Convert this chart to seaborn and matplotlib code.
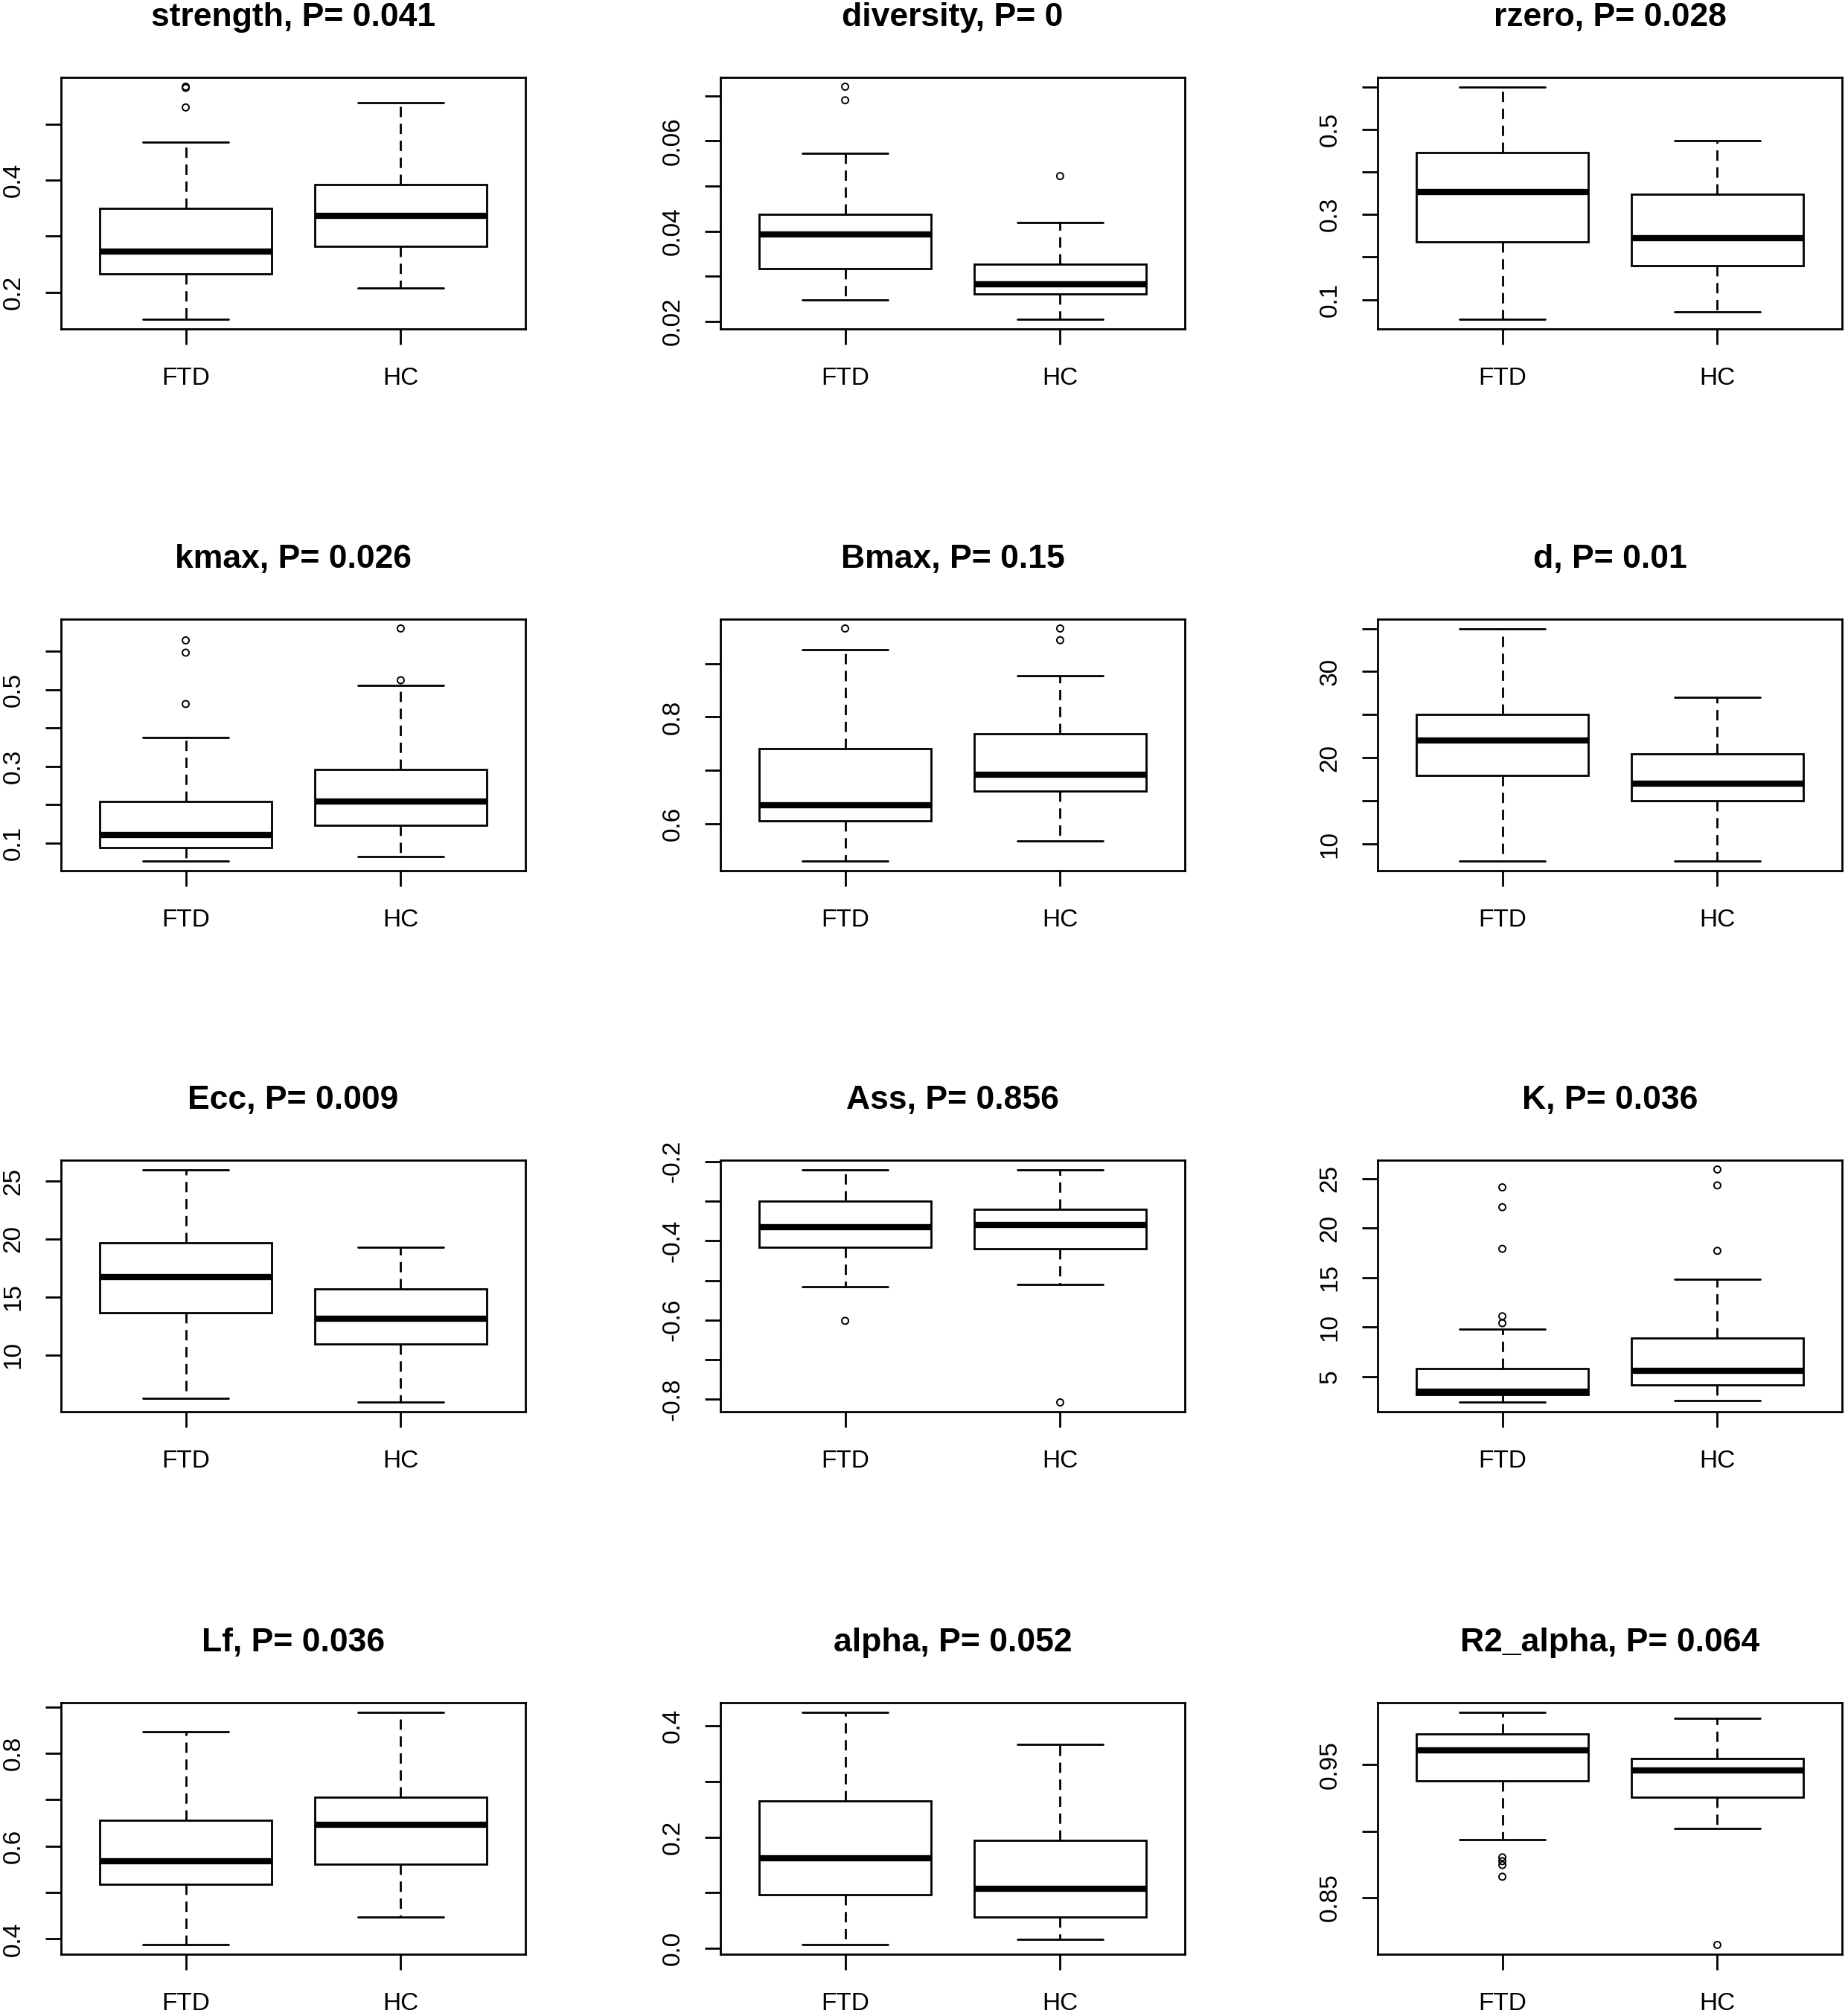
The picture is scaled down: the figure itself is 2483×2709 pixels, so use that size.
import matplotlib
matplotlib.use("Agg")
import matplotlib.pyplot as plt
import pandas as pd
import seaborn as sns

# ---------------- data ----------------
groups = ["FTD", "HC"]

metrics = ["strength", "diversity", "rzero", "kmax", "Bmax", "d",
           "Ecc", "Ass", "K", "Lf", "alpha", "R2_alpha"]
p_values = ["0.041", "0", "0.028", "0.026", "0.15", "0.01",
            "0.009", "0.856", "0.036", "0.036", "0.052", "0.064"]

# five-number summaries: [lower whisker, Q1, median, Q3, upper whisker]
strength_ftd = [0.151, 0.233, 0.272, 0.350, 0.468]
strength_hc = [0.208, 0.282, 0.336, 0.392, 0.539]
strength_ftd_out = [0.530, 0.565, 0.567]
strength_hc_out = []

diversity_ftd = [0.0248, 0.0317, 0.0393, 0.0437, 0.0573]
diversity_hc = [0.0204, 0.0261, 0.0283, 0.0327, 0.0419]
diversity_ftd_out = [0.0690, 0.0720]
diversity_hc_out = [0.0522]

rzero_ftd = [0.053, 0.236, 0.352, 0.446, 0.600]
rzero_hc = [0.071, 0.180, 0.245, 0.348, 0.474]
rzero_ftd_out = []
rzero_hc_out = []

kmax_ftd = [0.0525, 0.089, 0.121, 0.208, 0.376]
kmax_hc = [0.0645, 0.147, 0.209, 0.293, 0.512]
kmax_ftd_out = [0.463, 0.597, 0.629]
kmax_hc_out = [0.525, 0.660]

Bmax_ftd = [0.529, 0.605, 0.634, 0.740, 0.926]
Bmax_hc = [0.567, 0.661, 0.691, 0.769, 0.878]
Bmax_ftd_out = [0.966]
Bmax_hc_out = [0.944, 0.966]

d_ftd = [8, 18, 22, 25, 35]
d_hc = [8, 15, 17, 20.5, 27]
d_ftd_out = []
d_hc_out = []

Ecc_ftd = [6.25, 13.66, 16.70, 19.66, 26.0]
Ecc_hc = [5.91, 10.92, 13.10, 15.69, 19.31]
Ecc_ftd_out = []
Ecc_hc_out = []

Ass_ftd = [-0.5165, -0.416, -0.365, -0.300, -0.220]
Ass_hc = [-0.511, -0.420, -0.360, -0.321, -0.220]
Ass_ftd_out = [-0.602]
Ass_hc_out = [-0.808]

K_ftd = [2.41, 3.17, 3.48, 5.86, 9.79]
K_hc = [2.6, 4.16, 5.6, 8.87, 14.83]
K_ftd_out = [10.4, 11.1, 17.9, 22.1, 24.1]
K_hc_out = [17.7, 24.3, 25.9]

Lf_ftd = [0.387, 0.518, 0.568, 0.656, 0.846]
Lf_hc = [0.447, 0.561, 0.646, 0.706, 0.889]
Lf_ftd_out = []
Lf_hc_out = []

alpha_ftd = [0.0065, 0.0964, 0.1615, 0.2653, 0.4245]
alpha_hc = [0.017, 0.0567, 0.107, 0.194, 0.366]
alpha_ftd_out = []
alpha_hc_out = []

R2_alpha_ftd = [0.8939, 0.938, 0.9609, 0.9731, 0.9898]
R2_alpha_hc = [0.9019, 0.9257, 0.9457, 0.9547, 0.9851]
R2_alpha_ftd_out = [0.8657, 0.8745, 0.8774, 0.8803]
R2_alpha_hc_out = [0.8143]

# y tick marks and their labels (R drops overlapping labels)
strength_ticks = [0.2, 0.3, 0.4, 0.5]
strength_labels = ["0.2", "", "0.4", ""]
diversity_ticks = [0.02, 0.03, 0.04, 0.05, 0.06, 0.07]
diversity_labels = ["0.02", "", "0.04", "", "0.06", ""]
rzero_ticks = [0.1, 0.2, 0.3, 0.4, 0.5, 0.6]
rzero_labels = ["0.1", "", "0.3", "", "0.5", ""]
kmax_ticks = [0.1, 0.2, 0.3, 0.4, 0.5, 0.6]
kmax_labels = ["0.1", "", "0.3", "", "0.5", ""]
Bmax_ticks = [0.6, 0.7, 0.8, 0.9]
Bmax_labels = ["0.6", "", "0.8", ""]
d_ticks = [10, 15, 20, 25, 30, 35]
d_labels = ["10", "", "20", "", "30", ""]
Ecc_ticks = [10, 15, 20, 25]
Ecc_labels = ["10", "15", "20", "25"]
Ass_ticks = [-0.8, -0.7, -0.6, -0.5, -0.4, -0.3, -0.2]
Ass_labels = ["-0.8", "", "-0.6", "", "-0.4", "", "-0.2"]
K_ticks = [5, 10, 15, 20, 25]
K_labels = ["5", "10", "15", "20", "25"]
Lf_ticks = [0.4, 0.5, 0.6, 0.7, 0.8, 0.9]
Lf_labels = ["0.4", "", "0.6", "", "0.8", ""]
alpha_ticks = [0.0, 0.1, 0.2, 0.3, 0.4]
alpha_labels = ["0.0", "", "0.2", "", "0.4"]
R2_alpha_ticks = [0.85, 0.90, 0.95]
R2_alpha_labels = ["0.85", "", "0.95"]

panels = [
    (strength_ftd, strength_hc, strength_ftd_out, strength_hc_out, strength_ticks, strength_labels),
    (diversity_ftd, diversity_hc, diversity_ftd_out, diversity_hc_out, diversity_ticks, diversity_labels),
    (rzero_ftd, rzero_hc, rzero_ftd_out, rzero_hc_out, rzero_ticks, rzero_labels),
    (kmax_ftd, kmax_hc, kmax_ftd_out, kmax_hc_out, kmax_ticks, kmax_labels),
    (Bmax_ftd, Bmax_hc, Bmax_ftd_out, Bmax_hc_out, Bmax_ticks, Bmax_labels),
    (d_ftd, d_hc, d_ftd_out, d_hc_out, d_ticks, d_labels),
    (Ecc_ftd, Ecc_hc, Ecc_ftd_out, Ecc_hc_out, Ecc_ticks, Ecc_labels),
    (Ass_ftd, Ass_hc, Ass_ftd_out, Ass_hc_out, Ass_ticks, Ass_labels),
    (K_ftd, K_hc, K_ftd_out, K_hc_out, K_ticks, K_labels),
    (Lf_ftd, Lf_hc, Lf_ftd_out, Lf_hc_out, Lf_ticks, Lf_labels),
    (alpha_ftd, alpha_hc, alpha_ftd_out, alpha_hc_out, alpha_ticks, alpha_labels),
    (R2_alpha_ftd, R2_alpha_hc, R2_alpha_ftd_out, R2_alpha_hc_out, R2_alpha_ticks, R2_alpha_labels),
]

# ---------------- style ----------------
sns.set_theme(style="ticks")
plt.rcParams["font.family"] = ["Liberation Sans", "DejaVu Sans"]
plt.rcParams["axes.edgecolor"] = "black"
plt.rcParams["text.color"] = "black"
plt.rcParams["xtick.color"] = "black"
plt.rcParams["ytick.color"] = "black"

W, H, DPI = 2483, 2709, 100
fig = plt.figure(figsize=(W / DPI, H / DPI), dpi=DPI)
fig.patch.set_facecolor("white")

col_left = [82, 968, 1851]
row_top = [104, 832, 1559, 2288]
ax_w, ax_h = 624, 338

LW = 2.0

for i, (ftd, hc, ftd_out, hc_out, ticks, labels) in enumerate(panels):
    r, c = divmod(i, 3)
    ax = fig.add_axes([col_left[c] / W, 1 - (row_top[r] + ax_h) / H, ax_w / W, ax_h / H])
    ax.set_facecolor("white")

    df = pd.DataFrame({"group": [groups[0]] * len(ftd) + [groups[1]] * len(hc),
                       "value": list(ftd) + list(hc)})
    sns.boxplot(data=df, x="group", y="value", order=groups, ax=ax,
                whis=(0, 100), width=0.8, color="white", linecolor="black",
                saturation=1, linewidth=LW,
                boxprops={"facecolor": "white", "edgecolor": "black", "linewidth": LW},
                whiskerprops={"color": "black", "linewidth": LW, "linestyle": (0, (5.0, 3.2))},
                capprops={"color": "black", "linewidth": LW},
                medianprops={"color": "black", "linewidth": 3 * LW, "solid_capstyle": "butt"})

    outs = list(ftd_out) + list(hc_out)
    if outs:
        dfo = pd.DataFrame({"group": [groups[0]] * len(ftd_out) + [groups[1]] * len(hc_out),
                            "value": outs})
        sns.stripplot(data=dfo, x="group", y="value", order=groups, ax=ax,
                      jitter=False, size=6.5, color="black", facecolor="none",
                      edgecolor="black", linewidth=1.4, zorder=5)

    allv = list(ftd) + list(hc) + outs
    lo, hi = min(allv), max(allv)
    pad = 0.04 * (hi - lo)
    ax.set_ylim(lo - pad, hi + pad)
    ax.set_xlim(-0.58, 1.58)

    ax.set_yticks(ticks)
    ax.set_yticklabels(labels, rotation=90, va="center")
    ax.set_xticks([0, 1])
    ax.set_xticklabels(groups)

    ax.set_xlabel("")
    ax.set_ylabel("")
    ax.set_title(f"{metrics[i]}, P= {p_values[i]}", fontsize=32, fontweight="bold", pad=50)

    for s in ax.spines.values():
        s.set_visible(True)
        s.set_linewidth(LW)
        s.set_color("black")
    ax.tick_params(axis="both", direction="out", length=15, width=LW,
                   labelsize=24, colors="black")
    ax.tick_params(axis="y", pad=20)
    ax.tick_params(axis="x", pad=22)

fig.savefig("out.png", dpi=DPI, facecolor="white")
